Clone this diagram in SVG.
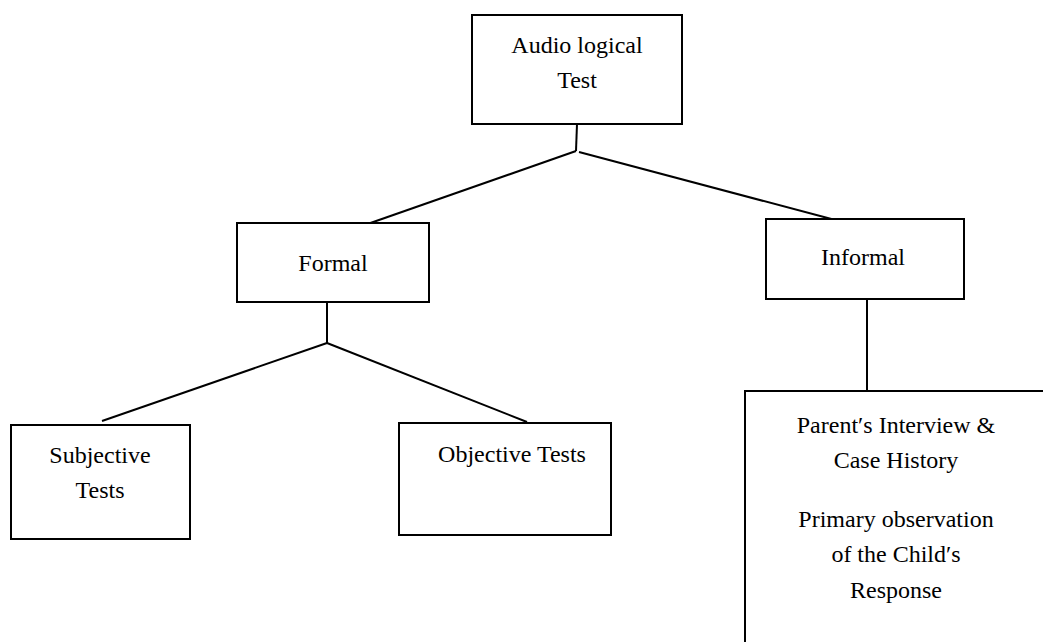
<svg xmlns="http://www.w3.org/2000/svg" width="1043" height="642" viewBox="0 0 1043 642">
<style>
.box{fill:#fff;stroke:#000;stroke-width:2}
.ln{stroke:#000;stroke-width:2;fill:none}
text{font-family:"Liberation Serif","Times New Roman",serif;font-size:24px;fill:#000;text-anchor:middle}
</style>
<rect width="1043" height="642" fill="#fff"/>
<g id="connectors">
<line class="ln" x1="577" y1="124" x2="576" y2="151"/>
<line class="ln" x1="576" y1="151" x2="359" y2="227"/>
<line class="ln" x1="579" y1="152" x2="839" y2="221"/>
<line class="ln" x1="327" y1="302" x2="327" y2="343"/>
<line class="ln" x1="327" y1="343" x2="102" y2="421"/>
<line class="ln" x1="327" y1="343" x2="527" y2="422"/>
<line class="ln" x1="867" y1="299" x2="867" y2="391"/>
</g>
<g id="audio">
<rect class="box" x="472" y="15" width="210" height="109"/>
<text x="577" y="53">Audio logical</text>
<text x="577" y="88">Test</text>
</g>
<g id="formal">
<rect class="box" x="237" y="223" width="192" height="79"/>
<text x="333" y="271">Formal</text>
</g>
<g id="informal">
<rect class="box" x="766" y="219" width="198" height="80"/>
<text x="863" y="265">Informal</text>
</g>
<g id="subjective">
<rect class="box" x="11" y="425" width="179" height="114"/>
<text x="100" y="463">Subjective</text>
<text x="100" y="498">Tests</text>
</g>
<g id="objective">
<rect class="box" x="399" y="423" width="212" height="112"/>
<text x="512" y="462">Objective Tests</text>
</g>
<g id="parent">
<rect class="box" x="745" y="391" width="320" height="280"/>
<text x="896" y="433">Parent′s Interview &amp;</text>
<text x="896" y="468">Case History</text>
<text x="896" y="527">Primary observation</text>
<text x="896" y="562">of the Child′s</text>
<text x="896" y="598">Response</text>
</g>
</svg>
